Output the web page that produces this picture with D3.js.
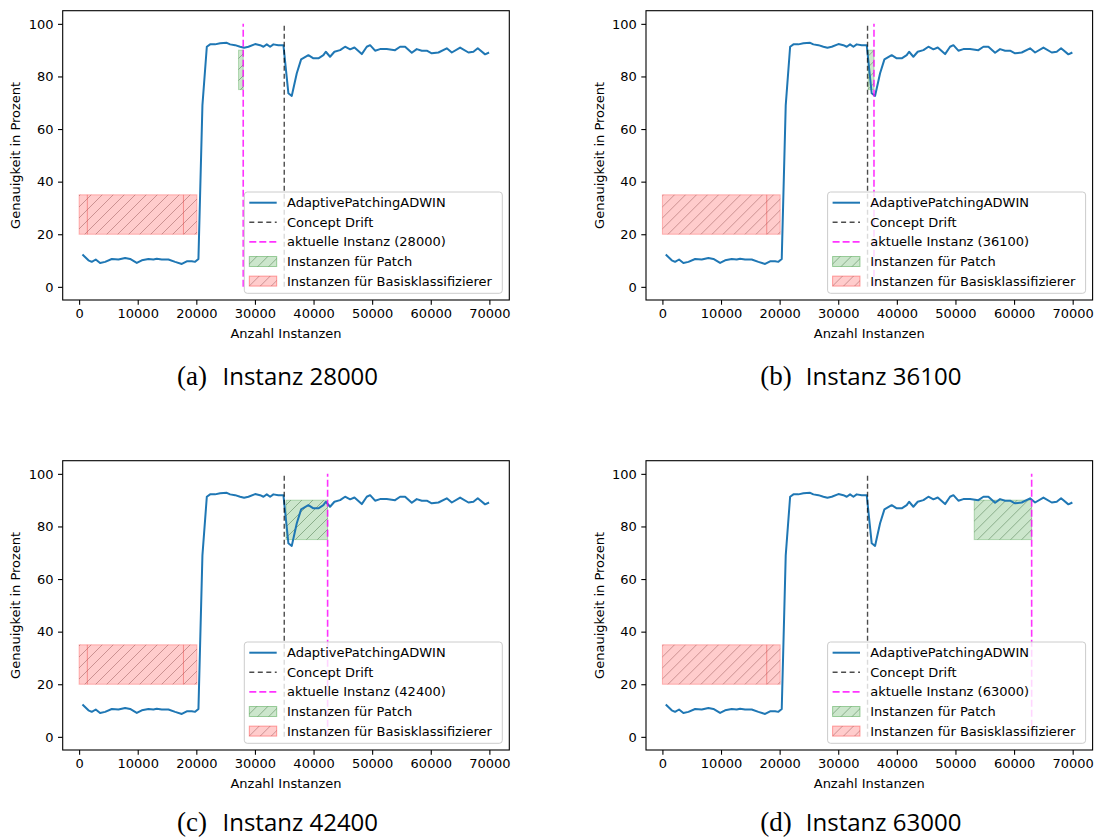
<!DOCTYPE html>
<html>
<head>
<meta charset="utf-8">
<script src="https://d3js.org/d3.v7.min.js"></script>
<style>
    body { margin: 0; background: #ffffff; }
    text { font-family: 'DejaVu Sans', sans-serif; fill: #000000; }
</style>
</head>
<body>
<div id="chart"></div>
<script>
// data: accuracy curve
var instances = [
    570, 1590, 2160, 2840, 3580, 4440, 5580, 6710, 7850, 8700,
    9840, 10700, 11830, 12680, 13250, 14110, 15240, 16380, 17520, 18370,
    19230, 19790, 20360, 21040, 21790, 22350, 23200, 24060, 25200, 25760,
    26620, 27470, 28150, 28890, 30030, 30880, 31450, 32020, 32590, 33150,
    34000, 34860, 35710, 36280, 37140, 37880, 39120, 39980, 40830, 41680,
    42090, 42820, 43560, 44530, 45380, 46240, 46980, 48230, 49080, 49650,
    50500, 51350, 52490, 53910, 54770, 55620, 56760, 57610, 58470, 59320,
    60170, 61310, 62730, 63590, 65010, 66430, 67280, 68020, 69270, 69950
];
var accuracy = [
    12.3, 10.1, 9.5, 10.4, 9.1, 9.5, 10.6, 10.4, 11.0, 10.6,
    9.1, 10.1, 10.6, 10.4, 10.7, 10.4, 10.4, 9.5, 8.7, 9.7,
    9.7, 9.5, 10.6, 69.0, 91.3, 92.2, 92.2, 92.6, 92.8, 92.2,
    91.9, 91.3, 90.9, 91.3, 92.3, 91.9, 91.3, 92.2, 91.3, 92.2,
    91.9, 91.9, 73.6, 72.6, 81.2, 86.5, 88.1, 86.9, 86.9, 88.1,
    89.4, 87.5, 89.4, 90.0, 91.3, 90.3, 91.0, 88.5, 91.3, 91.9,
    89.8, 90.4, 90.4, 90.0, 91.3, 91.3, 89.0, 90.4, 89.8, 89.8,
    88.8, 89.1, 90.7, 89.1, 91.0, 89.1, 89.4, 90.7, 88.4, 89.1
];

// data: one entry per panel
var panelLetters = [ 'a', 'b', 'c', 'd' ];
var currentInstances = [ 28000, 36100, 42400, 63000 ];
var patchStarts = [ 27200, 35100, 35300, 53200 ];
var baseSeams = [ [ 1400, 17800 ], [ 17800 ], [ 1400, 17800 ], [ 17800 ] ];

// data: shared marks
var driftInstance = 35000;
var baseRange = [ 0, 20100 ];
var baseAccuracy = [ 20, 35 ];
var patchAccuracy = [ 75, 90 ];
var lineRange = [ 0, 100 ];

// data: ticks and labels
var xTicks = [ 0, 10000, 20000, 30000, 40000, 50000, 60000, 70000 ];
var yTicks = [ 0, 20, 40, 60, 80, 100 ];
var legendLabels = [ 'AdaptivePatchingADWIN', 'Concept Drift', 'aktuelle Instanz', 'Instanzen für Patch', 'Instanzen für Basisklassifizierer' ];

// namespace
var chart = {};

chart.width = 1097;
chart.height = 837;

chart.offsets = [ [ 0, 0 ], [ 583.3, 0 ], [ 0, 450 ], [ 583.3, 450 ] ];
chart.captionY = [ 385, 385, 381, 381 ];

chart.axes = {
    left: 62.7,
    top: 10.7,
    width: 446.6,
    height: 289.3
};

chart.colors = {
    line: '#1f77b4',
    drift: 'rgba(0, 0, 0, 0.7)',
    current: 'rgba(255, 0, 255, 0.8)',
    patchFill: 'rgba(0, 128, 0, 0.2)',
    patchEdge: 'rgba(0, 128, 0, 0.25)',
    patchHatch: 'rgba(40, 90, 40, 0.45)',
    baseFill: 'rgba(255, 0, 0, 0.2)',
    baseEdge: 'rgba(255, 0, 0, 0.25)',
    baseHatch: 'rgba(110, 40, 40, 0.4)'
};

// render
chart.render = function( root ) {
    var svg = d3.select( root )
                .append( 'svg' )
                .attr( 'width', chart.width )
                .attr( 'height', chart.height );

    svg.append( 'rect' )
       .attr( 'width', chart.width )
       .attr( 'height', chart.height )
       .attr( 'fill', '#ffffff' );

    chart.drawPatterns( svg );

    for( var i = 0; i < panelLetters.length; i++ ) {
        var g = svg.append( 'g' )
                   .attr( 'transform', 'translate(' + chart.offsets[ i ][ 0 ] + ',' + chart.offsets[ i ][ 1 ] + ')' );
        chart.drawPanel( g, i );
    }
}

// hatch patterns
chart.drawPatterns = function( svg ) {
    var defs = svg.append( 'defs' );
    var s = 11;
    var hatches = [
        { id: 'hatch-patch', color: chart.colors.patchHatch },
        { id: 'hatch-base', color: chart.colors.baseHatch }
    ];

    hatches.forEach( function( h ) {
        var p = defs.append( 'pattern' )
                    .attr( 'id', h.id )
                    .attr( 'patternUnits', 'userSpaceOnUse' )
                    .attr( 'width', s )
                    .attr( 'height', s );
        p.append( 'path' )
         .attr( 'd', 'M0,' + s + ' L' + s + ',0 M' + ( -s / 4 ) + ',' + ( s / 4 ) + ' L' + ( s / 4 ) + ',' + ( -s / 4 )
                   + ' M' + ( s * 3 / 4 ) + ',' + ( s * 5 / 4 ) + ' L' + ( s * 5 / 4 ) + ',' + ( s * 3 / 4 ) )
         .attr( 'stroke', h.color )
         .attr( 'stroke-width', 0.9 );
    });
}

// scales
chart.getScales = function() {
    var a = chart.axes;
    var x = d3.scaleLinear()
              .domain( [ -2800, 73400 ] )
              .range( [ a.left, a.left + a.width ] );
    var y = d3.scaleLinear()
              .domain( [ -5, 105 ] )
              .range( [ a.top + a.height, a.top ] );
    return { x: x, y: y };
}

// hatched region
chart.drawRegion = function( g, x, y, x0, x1, y0, y1, fill, edge, hatch ) {
    var rx = x( x0 );
    var ry = y( y1 );
    var rw = x( x1 ) - x( x0 );
    var rh = y( y0 ) - y( y1 );

    g.append( 'rect' )
     .attr( 'x', rx ).attr( 'y', ry )
     .attr( 'width', rw ).attr( 'height', rh )
     .attr( 'fill', fill )
     .attr( 'stroke', edge )
     .attr( 'stroke-width', 1 );

    g.append( 'rect' )
     .attr( 'x', rx ).attr( 'y', ry )
     .attr( 'width', rw ).attr( 'height', rh )
     .attr( 'fill', 'url(#' + hatch + ')' );
}

// panel
chart.drawPanel = function( g, index ) {
    var sc = chart.getScales();
    var x = sc.x;
    var y = sc.y;
    var a = chart.axes;
    var c = chart.colors;

    var plot = g.append( 'g' );

    // regions
    chart.drawRegion( plot, x, y, patchStarts[ index ], currentInstances[ index ], patchAccuracy[ 0 ], patchAccuracy[ 1 ],
                      c.patchFill, c.patchEdge, 'hatch-patch' );
    chart.drawRegion( plot, x, y, baseRange[ 0 ], baseRange[ 1 ], baseAccuracy[ 0 ], baseAccuracy[ 1 ],
                      c.baseFill, c.baseEdge, 'hatch-base' );

    plot.selectAll( 'line.seam' )
        .data( baseSeams[ index ] )
        .enter()
        .append( 'line' )
        .attr( 'class', 'seam' )
        .attr( 'x1', function( d ) { return x( d ); } )
        .attr( 'x2', function( d ) { return x( d ); } )
        .attr( 'y1', y( baseAccuracy[ 0 ] ) )
        .attr( 'y2', y( baseAccuracy[ 1 ] ) )
        .attr( 'stroke', 'rgba(230, 60, 60, 0.45)' )
        .attr( 'stroke-width', 1 );

    // accuracy line
    var points = instances.map( function( d, i ) { return [ d, accuracy[ i ] ]; } );
    var line = d3.line()
                 .x( function( d ) { return x( d[ 0 ] ); } )
                 .y( function( d ) { return y( d[ 1 ] ); } );

    plot.append( 'path' )
        .datum( points )
        .attr( 'd', line )
        .attr( 'fill', 'none' )
        .attr( 'stroke', c.line )
        .attr( 'stroke-width', 2 )
        .attr( 'stroke-linejoin', 'round' );

    // vertical markers
    plot.append( 'line' )
        .attr( 'x1', x( driftInstance ) ).attr( 'x2', x( driftInstance ) )
        .attr( 'y1', y( lineRange[ 0 ] ) ).attr( 'y2', y( lineRange[ 1 ] ) )
        .attr( 'stroke', c.drift )
        .attr( 'stroke-width', 1.4 )
        .attr( 'stroke-dasharray', '5,3' );

    plot.append( 'line' )
        .attr( 'x1', x( currentInstances[ index ] ) ).attr( 'x2', x( currentInstances[ index ] ) )
        .attr( 'y1', y( lineRange[ 0 ] ) ).attr( 'y2', y( lineRange[ 1 ] ) )
        .attr( 'stroke', c.current )
        .attr( 'stroke-width', 1.6 )
        .attr( 'stroke-dasharray', '7,3' );

    chart.drawLegend( g, index );
    chart.drawAxes( g, x, y );

    // caption
    var capX = a.left + 114.3;
    var capY = chart.captionY[ index ];
    g.append( 'text' )
     .attr( 'x', capX )
     .attr( 'y', capY )
     .style( 'font-family', "'Liberation Serif', serif" )
     .style( 'font-size', '27px' )
     .text( '(' + panelLetters[ index ] + ')' );
    g.append( 'text' )
     .attr( 'x', capX + 45.5 )
     .attr( 'y', capY )
     .style( 'font-family', "'Open Sans', sans-serif" )
     .style( 'font-size', '24px' )
     .text( 'Instanz ' + currentInstances[ index ] );
}

// axes
chart.drawAxes = function( g, x, y ) {
    var a = chart.axes;
    var tick = 4.7;

    var xAxis = g.append( 'g' )
                 .attr( 'transform', 'translate(0,' + ( a.top + a.height ) + ')' )
                 .call( d3.axisBottom( x ).tickValues( xTicks ).tickSize( tick ).tickPadding( 4.5 ).tickFormat( d3.format( 'd' ) ) );

    var yAxis = g.append( 'g' )
                 .attr( 'transform', 'translate(' + a.left + ',0)' )
                 .call( d3.axisLeft( y ).tickValues( yTicks ).tickSize( tick ).tickPadding( 4.5 ).tickFormat( d3.format( 'd' ) ) );

    [ xAxis, yAxis ].forEach( function( ax ) {
        ax.select( '.domain' ).remove();
        ax.selectAll( 'line' ).attr( 'stroke', '#000' ).attr( 'stroke-width', 1.1 );
        ax.selectAll( 'text' )
          .style( 'font-family', "'DejaVu Sans', sans-serif" )
          .style( 'font-size', '13px' )
          .attr( 'fill', '#000' );
    });

    g.append( 'rect' )
     .attr( 'x', a.left )
     .attr( 'y', a.top )
     .attr( 'width', a.width )
     .attr( 'height', a.height )
     .attr( 'fill', 'none' )
     .attr( 'stroke', '#000' )
     .attr( 'stroke-width', 1.1 );

    g.append( 'text' )
     .attr( 'x', a.left + a.width / 2 )
     .attr( 'y', 338 )
     .attr( 'text-anchor', 'middle' )
     .style( 'font-size', '13px' )
     .text( 'Anzahl Instanzen' );

    g.append( 'text' )
     .attr( 'transform', 'translate(15.7,' + ( a.top + a.height / 2 ) + ') rotate(-90)' )
     .attr( 'text-anchor', 'middle' )
     .attr( 'dominant-baseline', 'central' )
     .style( 'font-size', '13px' )
     .text( 'Genauigkeit in Prozent' );
}

// legend
chart.drawLegend = function( g, index ) {
    var a = chart.axes;
    var c = chart.colors;
    var w = 258;
    var h = 101.3;
    var lx = a.left + a.width - 7 - w;
    var ly = a.top + a.height - 6.7 - h;
    var rowGap = 19.6;
    var first = 10.7;

    var lg = g.append( 'g' ).attr( 'transform', 'translate(' + lx + ',' + ly + ')' );

    lg.append( 'rect' )
      .attr( 'width', w )
      .attr( 'height', h )
      .attr( 'rx', 3 )
      .attr( 'fill', 'rgba(255, 255, 255, 0.8)' )
      .attr( 'stroke', '#cccccc' )
      .attr( 'stroke-width', 1 );

    var hx0 = 5;
    var hx1 = 32.4;
    var lines = [
        { color: c.line, width: 2, dash: null },
        { color: c.drift, width: 1.4, dash: '5,3.5' },
        { color: c.current, width: 1.6, dash: '7,3' }
    ];

    lines.forEach( function( d, i ) {
        var ry = first + rowGap * i;
        lg.append( 'line' )
          .attr( 'x1', hx0 ).attr( 'x2', hx1 )
          .attr( 'y1', ry ).attr( 'y2', ry )
          .attr( 'stroke', d.color )
          .attr( 'stroke-width', d.width )
          .attr( 'stroke-dasharray', d.dash );
    });

    var patches = [
        { fill: c.patchFill, edge: 'rgba(0, 128, 0, 0.35)', hatch: 'hatch-patch' },
        { fill: c.baseFill, edge: 'rgba(255, 0, 0, 0.35)', hatch: 'hatch-base' }
    ];

    patches.forEach( function( d, i ) {
        var ry = first + rowGap * ( i + 3 );
        lg.append( 'rect' )
          .attr( 'x', hx0 ).attr( 'y', ry - 5 )
          .attr( 'width', hx1 - hx0 ).attr( 'height', 10 )
          .attr( 'fill', d.fill )
          .attr( 'stroke', d.edge );
        lg.append( 'rect' )
          .attr( 'x', hx0 ).attr( 'y', ry - 5 )
          .attr( 'width', hx1 - hx0 ).attr( 'height', 10 )
          .attr( 'fill', 'url(#' + d.hatch + ')' );
    });

    lg.selectAll( 'text' )
      .data( legendLabels )
      .enter()
      .append( 'text' )
      .attr( 'x', 42.7 )
      .attr( 'y', function( d, i ) { return first + rowGap * i; } )
      .attr( 'dominant-baseline', 'central' )
      .style( 'font-size', '13px' )
      .text( function( d, i ) {
          return i == 2 ? d + ' (' + currentInstances[ index ] + ')' : d;
      });
}

chart.render( '#chart' );
</script>
</body>
</html>
